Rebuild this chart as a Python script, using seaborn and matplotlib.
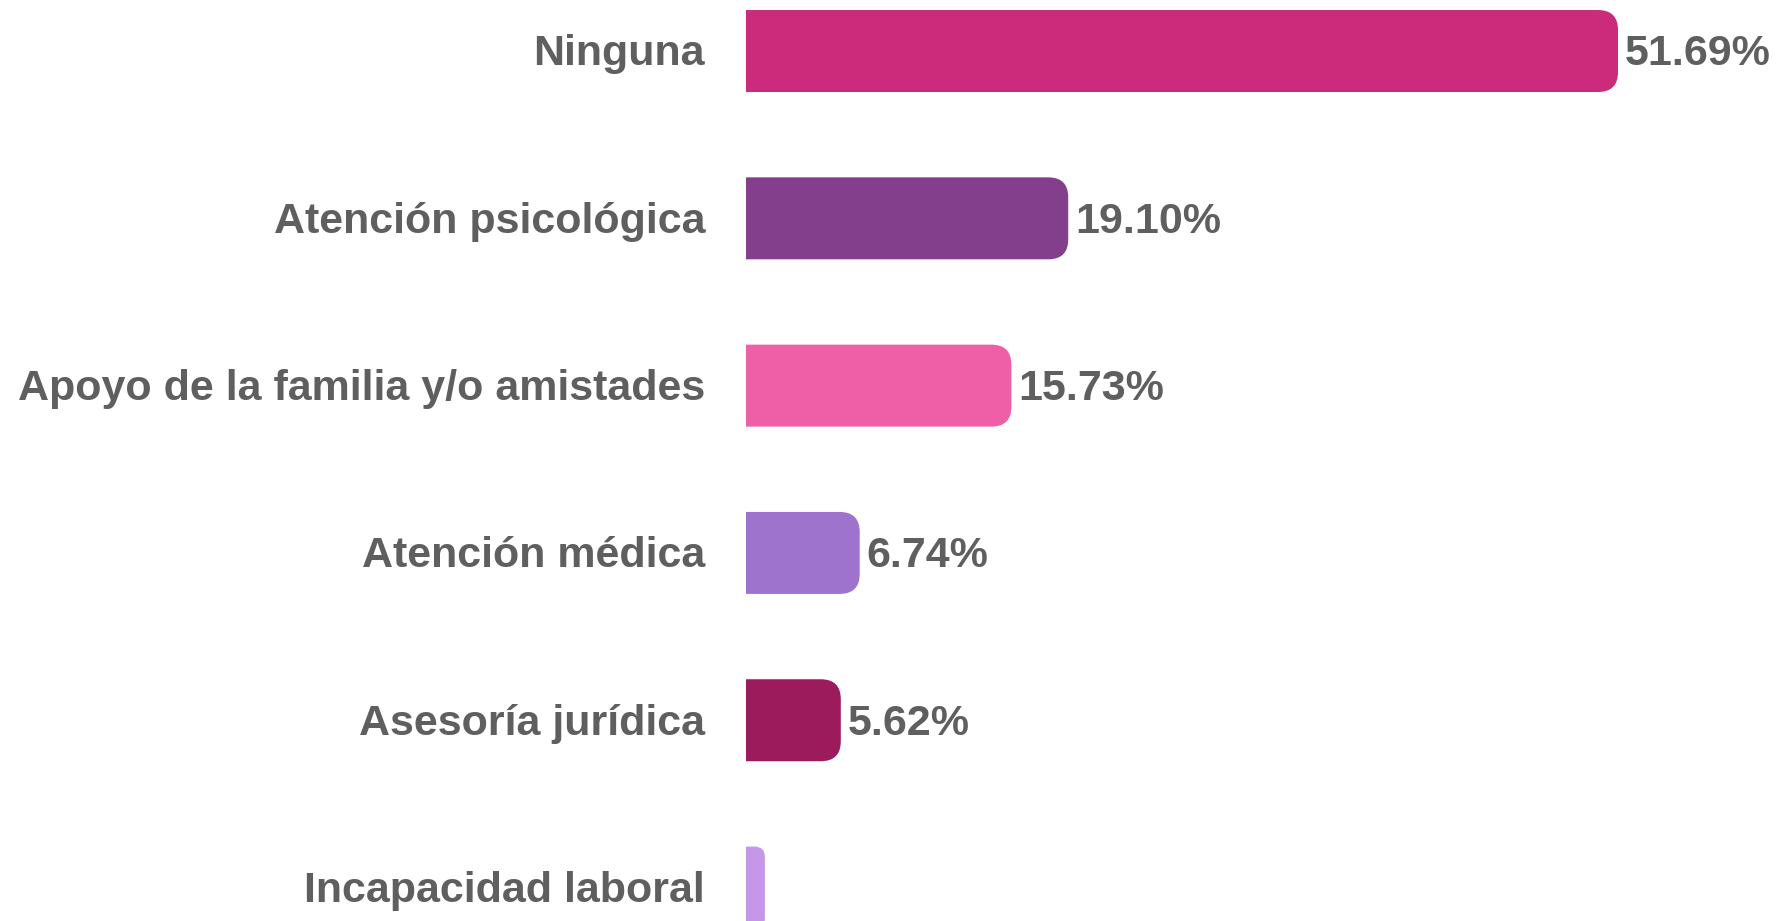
import matplotlib
matplotlib.use("Agg")
import matplotlib.pyplot as plt
import seaborn as sns
import pandas as pd
from matplotlib.patches import FancyBboxPatch
from matplotlib.transforms import IdentityTransform, Bbox

categories = ["Ninguna", "Atención psicológica", "Apoyo de la familia y/o amistades",
              "Atención médica", "Asesoría jurídica", "Incapacidad laboral"]
values = [51.69, 19.10, 15.73, 6.74, 5.62, 1.12]
colors = ["#CC2A7A", "#843F8C", "#EE5FA7", "#9E73CE", "#9B1B5C", "#C497E8"]

sns.set_theme(style="white")
plt.rcParams['font.family'] = ['Liberation Sans', 'DejaVu Sans']

df = pd.DataFrame({"cat": categories, "val": values})
fig = plt.figure(figsize=(17.82, 9.21), dpi=100)
ax = fig.add_axes([746/1782, 0, 1 - 746/1782, 1])
sns.barplot(data=df, x="val", y="cat", hue="cat", palette=colors, legend=False,
            width=0.49, ax=ax, orient="h")
ax.set_xlim(0, (1782 - 746) / 16.87)
ax.set_ylim(5.2, -0.305)
for s in ax.spines.values():
    s.set_visible(False)
ax.set_xticks([])
ax.set_yticks([])
ax.set_xlabel("")
ax.set_ylabel("")

fig.canvas.draw()
patches = list(ax.patches)
r = 20
for p, col, v, cat in zip(patches, colors, values, categories):
    bb = p.get_window_extent()
    p.set_visible(False)
    x0, y0, w, h = bb.x0, bb.y0, bb.width, bb.height
    rr = min(r, w / 2 + 1)
    fb = FancyBboxPatch((x0 - rr - 2, y0), w + rr + 2, h,
                        boxstyle=f"round,pad=0,rounding_size={rr}",
                        transform=IdentityTransform(), facecolor=col, edgecolor="none")
    fb.set_clip_box(Bbox.from_extents(x0, y0 - 2, x0 + w + 2, y0 + h + 2))
    fig.patches.append(fb)
    yc = p.get_y() + p.get_height() / 2 + 0.02
    if v > 2:
        ax.text(v + 7 / 16.87, yc, f"{v:.2f}%", ha="left", va="center", fontsize=31,
                fontweight="bold", color="#5f5f5f")
    ax.text(-41 / 16.87, yc, cat, ha="right", va="center", fontsize=31,
            fontweight="bold", color="#5f5f5f", clip_on=False)

fig.savefig("out.png", dpi=100)
